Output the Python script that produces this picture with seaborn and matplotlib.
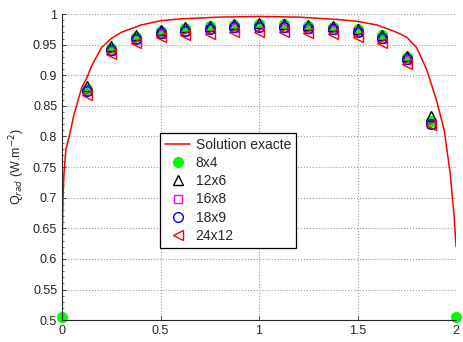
import numpy as np
import pandas as pd
import matplotlib
matplotlib.use("Agg")
import matplotlib.pyplot as plt
import seaborn as sns
from matplotlib.ticker import MultipleLocator

sns.set_style("ticks")
plt.rcParams['font.family'] = ['Liberation Sans', 'DejaVu Sans']

# exact solution
x_exact = [0.0, 0.005, 0.01, 0.02, 0.04, 0.06, 0.1, 0.125, 0.15, 0.2, 0.25, 0.3, 0.4, 0.5,
           0.6, 0.8, 1.0, 1.2, 1.4, 1.5, 1.6, 1.7, 1.75, 1.8, 1.85, 1.9, 1.94, 1.97, 1.99, 2.0]
q_exact = [0.62, 0.70, 0.74, 0.78, 0.805, 0.835, 0.88, 0.895, 0.915, 0.945, 0.960, 0.970, 0.982, 0.989,
           0.992, 0.995, 0.996, 0.995, 0.991, 0.988, 0.982, 0.970, 0.962, 0.945, 0.910, 0.860, 0.81, 0.74, 0.67, 0.62]

# mesh results
x_mesh = [0.125, 0.25, 0.375, 0.5, 0.625, 0.75, 0.875, 1.0, 1.125, 1.25, 1.375, 1.5, 1.625, 1.75, 1.875]
x_8x4 = [0.0] + x_mesh + [2.0]
q_8x4 = [0.505, 0.878, 0.944, 0.963, 0.973, 0.977, 0.980, 0.982, 0.984, 0.983, 0.981, 0.979, 0.975, 0.965, 0.930, 0.825, 0.505]
q_12x6 = [0.882, 0.947, 0.965, 0.974, 0.978, 0.981, 0.983, 0.985, 0.984, 0.982, 0.980, 0.976, 0.966, 0.932, 0.833]
q_16x8 = [0.874, 0.940, 0.959, 0.968, 0.972, 0.975, 0.977, 0.978, 0.977, 0.976, 0.974, 0.970, 0.960, 0.925, 0.821]
q_18x9 = [0.875, 0.941, 0.960, 0.969, 0.973, 0.976, 0.978, 0.979, 0.978, 0.977, 0.975, 0.971, 0.961, 0.926, 0.820]
q_24x12 = [0.868, 0.934, 0.953, 0.962, 0.966, 0.968, 0.970, 0.971, 0.970, 0.969, 0.967, 0.963, 0.953, 0.918, 0.818]

fig = plt.figure(figsize=(4.63, 3.42), dpi=100)
ax = fig.add_axes([0.134, 0.064, 0.851, 0.895])

sns.lineplot(x=x_exact, y=q_exact, ax=ax, color='red', linewidth=1.1,
             sort=False, estimator=None, label='Solution exacte')

series = [
    (x_8x4, q_8x4, '8x4', 'o', '#00ff00', True),
    (x_mesh, q_12x6, '12x6', '^', 'black', False),
    (x_mesh, q_16x8, '16x8', 's', 'magenta', False),
    (x_mesh, q_18x9, '18x9', 'o', 'blue', False),
    (x_mesh, q_24x12, '24x12', '<', 'red', False),
]
for xs, ys, lab, mk, col, filled in series:
    sns.lineplot(x=xs, y=ys, ax=ax, linestyle='', marker=mk, markersize=7 if mk != 's' else 6,
                 color=col, markerfacecolor=col if filled else 'none', markeredgecolor=col,
                 markeredgewidth=1.0, sort=False, estimator=None, label=lab, clip_on=False)

ax.set_xlim(0, 2)
ax.set_ylim(0.5, 1.0)
ax.set_xticks([0, 0.5, 1, 1.5, 2])
ax.set_xticklabels(['0', '0.5', '1', '1.5', '2'])
ax.set_yticks(np.arange(0.5, 1.001, 0.05))
ax.set_yticklabels(['0.5', '0.55', '0.6', '0.65', '0.7', '0.75', '0.8', '0.85', '0.9', '0.95', '1'])
ax.yaxis.set_minor_locator(MultipleLocator(0.01))
ax.tick_params(direction='in', labelsize=9, length=3, width=0.6)
ax.tick_params(which='minor', direction='in', length=1.5, width=0.5)
ax.grid(True, linestyle=':', color='#999999', linewidth=0.8)
for s in ['top', 'right']:
    ax.spines[s].set_visible(False)
for s in ['left', 'bottom']:
    ax.spines[s].set_linewidth(0.8)

ax.set_ylabel(r'Q$_{rad}$ (W.m$^{-2}$)', fontsize=9, labelpad=4)

leg = ax.legend(loc='upper left', bbox_to_anchor=(0.249, 0.611), fontsize=10,
                frameon=True, fancybox=False, edgecolor='black', framealpha=1,
                handlelength=1.8, borderpad=0.35, labelspacing=0.3, handletextpad=0.4,
                borderaxespad=0)
leg.get_frame().set_linewidth(0.9)

fig.savefig('out.png', dpi=100)
